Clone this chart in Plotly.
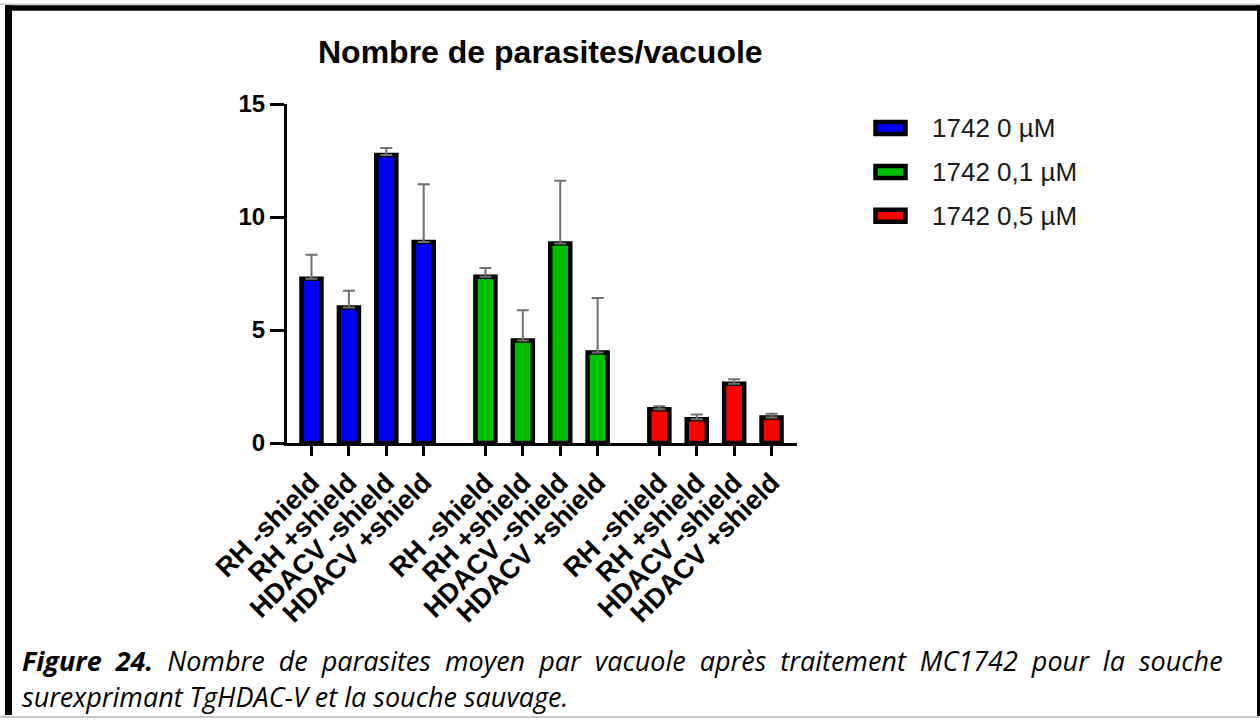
import plotly.graph_objects as go

# Data
categories = ["RH -shield", "RH +shield", "HDACV -shield", "HDACV +shield"]
series_names = ["1742 0 µM", "1742 0,1 µM", "1742 0,5 µM"]
means = [
    [7.27, 6.00, 12.74, 8.89],
    [7.36, 4.54, 8.83, 4.00],
    [1.49, 1.05, 2.62, 1.13],
]
errors = [
    [1.06, 0.74, 0.31, 2.56],
    [0.38, 1.33, 2.77, 2.42],
    [0.14, 0.21, 0.20, 0.16],
]
colors = ["#0000FF", "#00BF00", "#FF0000"]
y_ticks = [0, 5, 10, 15]

title_text = "Nombre de parasites/vacuole"
caption_bold = "Figure 24."
caption_line1 = "Nombre de parasites moyen par vacuole après traitement MC1742 pour la souche"
caption_line2 = "surexprimant TgHDAC-V et la souche sauvage."

# Page geometry (pixels)
W, H = 1260, 722
L, R, T, B = 287, 463, 104, 278.5
PW, PH = W - L - R, H - T - B


def px(x):
    return (x - L) / PW


def py(y):
    return (T + PH - y) / PH


group_step = 4.65
fig = go.Figure()
tickvals, ticktext = [], []
for g, name in enumerate(series_names):
    xs = [g * group_step + i for i in range(len(categories))]
    tickvals += xs
    ticktext += categories
    fig.add_trace(go.Bar(
        x=xs, y=means[g], name=name, width=0.535,
        marker=dict(color=colors[g], line=dict(color="black", width=4.5)),
        error_y=dict(type="data", symmetric=False, array=errors[g],
                     arrayminus=[0] * len(categories),
                     color="#707070", thickness=2, width=6),
        showlegend=False,
    ))

shapes = []
annotations = []

# Custom legend: outlined swatches with labels
for i, (name, c) in enumerate(zip(series_names, colors)):
    yc = 128 + 44 * i
    shapes.append(dict(type="rect", xref="paper", yref="paper",
                       x0=px(875.5), x1=px(905.5), y0=py(yc - 6), y1=py(yc + 6),
                       fillcolor=c, line=dict(color="black", width=4.5)))
    annotations.append(dict(xref="paper", yref="paper", x=px(930), y=py(yc),
                            xanchor="left", yanchor="middle", showarrow=False,
                            text=name,
                            font=dict(family="Liberation Sans, Arial", size=26, color="#1a1a1a")))

# Title
annotations.append(dict(xref="paper", yref="paper", x=px(540), y=py(52),
                        xanchor="center", yanchor="middle", showarrow=False,
                        text=title_text,
                        font=dict(family="Liberation Sans, Arial", size=32, color="black", weight="bold")))

# Caption (first line justified to the frame width)
gap = " \u00a0"
annotations.append(dict(xref="paper", yref="paper", x=px(20), y=py(661),
                        xanchor="left", yanchor="middle", showarrow=False,
                        text="<b><i>" + caption_bold.replace(" ", gap) + "</i></b>" + gap
                             + "<i>" + caption_line1.replace(" ", gap) + "</i>",
                        font=dict(family="Open Sans", size=27, color="black")))
annotations.append(dict(xref="paper", yref="paper", x=px(20), y=py(697),
                        xanchor="left", yanchor="middle", showarrow=False,
                        text="<i>" + caption_line2 + "</i>",
                        font=dict(family="Open Sans", size=27, color="black")))

# Page frame
shapes += [
    dict(type="line", xref="paper", yref="paper", x0=px(0), x1=px(1260), y0=py(4), y1=py(4),
         line=dict(color="#b0b0b0", width=1)),
    dict(type="rect", xref="paper", yref="paper", x0=px(5), x1=px(1262), y0=py(5), y1=py(10.5),
         fillcolor="black", line=dict(width=0)),
    dict(type="rect", xref="paper", yref="paper", x0=px(5), x1=px(12), y0=py(5), y1=py(716),
         fillcolor="black", line=dict(width=0)),
    dict(type="rect", xref="paper", yref="paper", x0=px(1257), x1=px(1262), y0=py(5), y1=py(718),
         fillcolor="black", line=dict(width=0)),
    dict(type="line", xref="paper", yref="paper", x0=px(0), x1=px(1260), y0=py(718), y1=py(718),
         line=dict(color="#c8c8c8", width=2)),
]

fig.update_layout(
    width=W, height=H,
    margin=dict(l=L, r=R, t=T, b=B, autoexpand=False),
    paper_bgcolor="white", plot_bgcolor="white",
    barmode="overlay",
    shapes=shapes, annotations=annotations,
    xaxis=dict(range=[-0.655, 12.98], tickvals=tickvals, ticktext=ticktext,
               tickangle=-45, showline=True, linecolor="black", linewidth=3,
               ticks="outside", ticklen=10, tickwidth=3, tickcolor="black",
               showgrid=False, zeroline=False,
               tickfont=dict(family="Liberation Sans, Arial", size=27, color="black", weight="bold")),
    yaxis=dict(range=[0, 15], tickvals=y_ticks, showline=True, linecolor="black", linewidth=3,
               ticks="outside", ticklen=14, tickwidth=3, tickcolor="black",
               showgrid=False, zeroline=False,
               tickfont=dict(family="Liberation Sans, Arial", size=24, color="black", weight="bold")),
)

fig.write_html("out.html")
